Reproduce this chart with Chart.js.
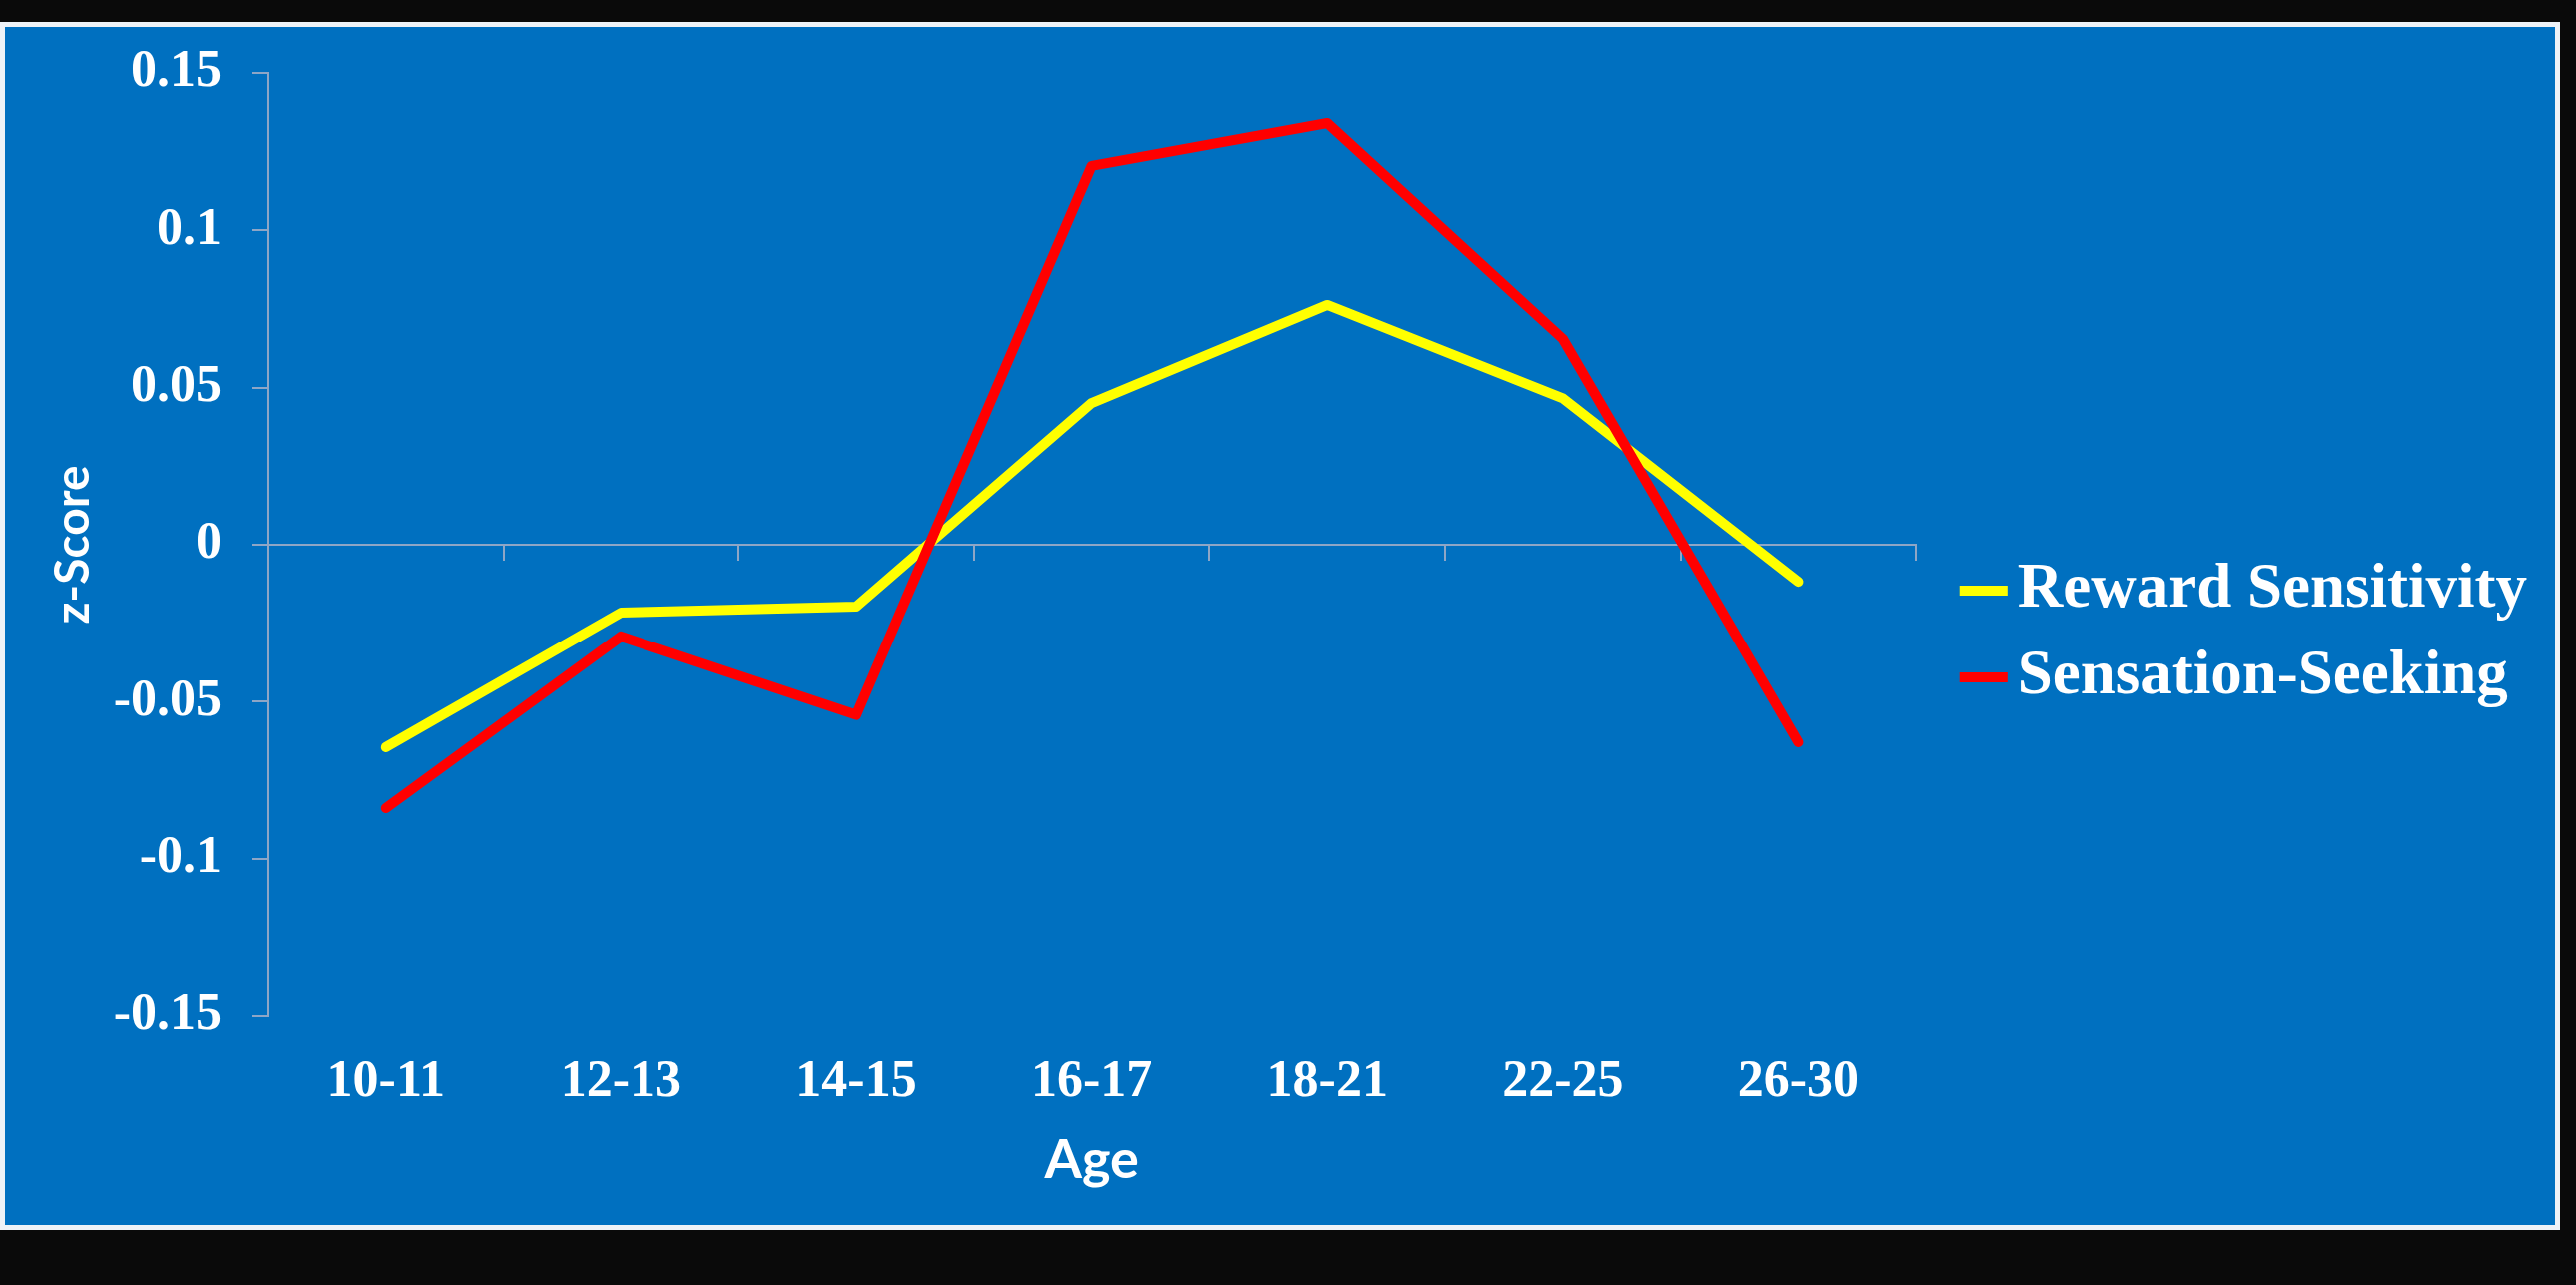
<!DOCTYPE html>
<html>
<head>
<meta charset="utf-8">
<script src="https://cdn.jsdelivr.net/npm/chart.js@4/dist/chart.umd.min.js"></script>
<style>
  html, body { margin: 0; padding: 0; background: #0a0a0a; }
  #panel {
    position: absolute; left: 0; top: 22px; width: 2562px; height: 1209px;
    box-sizing: border-box; border: 5px solid #eef2f7; background: #0070c0;
  }
  #chart { position: absolute; left: 0; top: 0; }
</style>
</head>
<body>
<div id="panel"></div>
<canvas id="chart" width="2578" height="1286"></canvas>
<script>
'use strict';

const ageGroups = ['10-11', '12-13', '14-15', '16-17', '18-21', '22-25', '26-30'];
const rewardSensitivity = [-0.0645, -0.0216, -0.0197, 0.0451, 0.0763, 0.0466, -0.0118];
const sensationSeeking = [-0.0839, -0.0292, -0.0542, 0.1205, 0.1341, 0.0655, -0.0629];
const yTicks = [-0.15, -0.1, -0.05, 0, 0.05, 0.1, 0.15];
const yTickLabels = ['-0.15', '-0.1', '-0.05', '0', '0.05', '0.1', '0.15'];

const serif = "'Liberation Serif', 'Times New Roman', serif";
const axisColor = '#8ea6c6';

function tickLabel(value) {
  for (let i = 0; i < yTicks.length; i++) {
    if (Math.abs(yTicks[i] - value) < 1e-9) {
      return yTickLabels[i];
    }
  }
  return '';
}

const ctx = document.getElementById('chart').getContext('2d');
new Chart(ctx, {
  type: 'line',
  data: {
    labels: ageGroups,
    datasets: [{
      label: 'Reward Sensitivity',
      data: rewardSensitivity,
      borderColor: '#ffff00',
      backgroundColor: '#ffff00',
      borderWidth: 10,
      borderCapStyle: 'round',
      borderJoinStyle: 'round',
      pointRadius: 0,
      tension: 0,
      order: 1
    },
    {
      label: 'Sensation-Seeking',
      data: sensationSeeking,
      borderColor: '#ff0000',
      backgroundColor: '#ff0000',
      borderWidth: 10,
      borderCapStyle: 'round',
      borderJoinStyle: 'round',
      pointRadius: 0,
      tension: 0,
      order: 0
    }]
  },
  options: {
    responsive: false,
    animation: false,
    layout: {
      padding: { left: 6, top: 73, right: 39, bottom: 90 }
    },
    plugins: {
      tooltip: { enabled: false },
      legend: {
        position: 'right',
        maxWidth: 700,
        labels: {
          usePointStyle: true,
          pointStyle: 'line',
          boxWidth: 5,
          boxHeight: 34,
          padding: 24,
          color: '#ffffff',
          font: { family: serif, size: 63, weight: 'bold' },
          sort: (a, b) => a.datasetIndex - b.datasetIndex
        }
      }
    },
    scales: {
      x: {
        position: 'bottom',
        offset: true,
        afterFit: (scale) => { scale.height = 179; },
        grid: { display: false, drawTicks: false },
        border: { display: false },
        ticks: {
          color: '#ffffff',
          padding: 35,
          font: { family: serif, size: 52, weight: 'bold' }
        },
        title: {
          display: true,
          text: 'Age',
          color: '#ffffff',
          padding: { top: 11, bottom: 2 },
          font: { family: 'Lato', size: 54, weight: 'bold' }
        }
      },
      x2: {
        position: { y: 0 },
        offset: true,
        grid: {
          offset: true,
          drawOnChartArea: false,
          tickLength: 15,
          color: axisColor,
          lineWidth: 2
        },
        border: { color: axisColor, width: 2 },
        ticks: { display: false }
      },
      y: {
        position: 'left',
        min: -0.15,
        max: 0.15,
        afterFit: (scale) => { scale.width = 262; },
        afterBuildTicks: (scale) => { scale.ticks = yTicks.map(v => ({ value: v })); },
        grid: {
          drawOnChartArea: false,
          tickLength: 16,
          color: axisColor,
          lineWidth: 2
        },
        border: { color: axisColor, width: 2 },
        ticks: {
          color: '#ffffff',
          padding: 30,
          font: { family: serif, size: 52, weight: 'bold' },
          callback: (value) => tickLabel(value)
        },
        title: {
          display: true,
          text: 'z-Score',
          color: '#ffffff',
          padding: { top: 39, bottom: 0 },
          font: { family: 'Lato', size: 48, weight: 'bold' }
        }
      },
      y2: {
        position: 'right',
        afterFit: (scale) => { scale.width = 42; },
        grid: { display: false, drawTicks: false },
        border: { display: false },
        ticks: { display: false }
      }
    }
  }
});
</script>
</body>
</html>
